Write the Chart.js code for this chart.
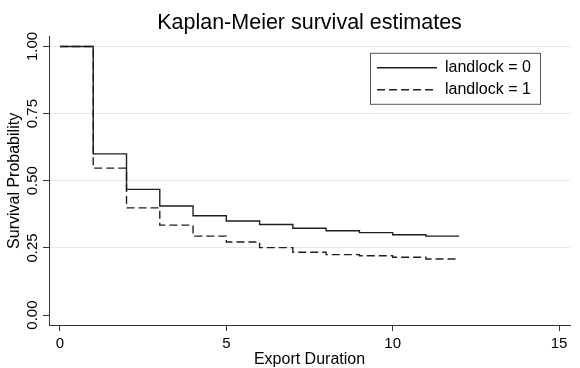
<!DOCTYPE html>
<html>
<head>
<meta charset="utf-8">
<script src="https://cdn.jsdelivr.net/npm/chart.js@4"></script>
<style>
  html, body { margin: 0; padding: 0; background: #ffffff; }
  #wrap { width: 580px; height: 368px; }
</style>
</head>
<body>
<div id="wrap"><canvas id="c" width="580" height="368"></canvas></div>
<script>
// ---- data ----
const times = [0, 1, 2, 3, 4, 5, 6, 7, 8, 9, 10, 11, 12];
const survLandlock0 = [1.00, 0.600, 0.468, 0.406, 0.370, 0.350, 0.337, 0.323, 0.314, 0.307, 0.299, 0.294, 0.294];
const survLandlock1 = [1.00, 0.547, 0.399, 0.335, 0.294, 0.272, 0.251, 0.234, 0.225, 0.221, 0.215, 0.209, 0.209];
const seriesLabels = ['landlock = 0', 'landlock = 1'];
const xTicks = [0, 5, 10, 15];
const xTickLabels = ['0', '5', '10', '15'];
const yTicks = [0, 0.25, 0.5, 0.75, 1];
const yTickLabels = ['0.00', '0.25', '0.50', '0.75', '1.00'];
const chartTitle = 'Kaplan-Meier survival estimates';
const xTitle = 'Export Duration';
const yTitle = 'Survival Probability';

const FONT = "'Liberation Sans', Arial, Helvetica, sans-serif";
const INK = '#000000';
const AXIS = '#333333';
const LINE = '#1e1e1e';
const DASH = [8, 4];

const toXY = (ys) => times.map((t, i) => ({ x: t, y: ys[i] }));

const legendPlacer = {
  id: 'legendPlacer',
  afterLayout(chart) {
    const lg = chart.legend;
    const ca = chart.chartArea;
    const w = 170, h = 56;
    lg.left = ca.right - 199;
    lg.top = ca.top + 17;
    lg.right = lg.left + w;
    lg.bottom = lg.top + h;
    lg.width = w;
    lg.height = h;
  },
  afterDraw(chart) {
    const lg = chart.legend;
    const ctx = chart.ctx;
    ctx.save();
    ctx.strokeStyle = '#555555';
    ctx.lineWidth = 1;
    ctx.strokeRect(lg.left - 0.5, lg.top - 0.5, 170, 51);
    ctx.restore();
  }
};

new Chart(document.getElementById('c'), {
  type: 'line',
  data: {
    datasets: [
      {
        label: seriesLabels[0],
        data: toXY(survLandlock0),
        borderColor: LINE,
        borderWidth: 1.4,
        stepped: 'before',
        pointRadius: 0,
        fill: false
      },
      {
        label: seriesLabels[1],
        data: toXY(survLandlock1),
        borderColor: LINE,
        borderWidth: 1.4,
        borderDash: DASH,
        stepped: 'before',
        pointRadius: 0,
        fill: false
      }
    ]
  },
  plugins: [legendPlacer],
  options: {
    responsive: false,
    devicePixelRatio: 1,
    animation: false,
    layout: { padding: { left: 0, right: 10, top: 0, bottom: 0 } },
    plugins: {
      title: {
        display: true,
        text: chartTitle,
        fullSize: false,
        color: INK,
        font: { family: FONT, size: 21.5, weight: 'normal', lineHeight: 1.2 },
        padding: { top: 10, bottom: 1 }
      },
      legend: {
        display: true,
        position: 'chartArea',
        align: 'start',
        labels: {
          usePointStyle: true,
          pointStyleWidth: 60,
          boxHeight: 10,
          padding: 6,
          color: INK,
          font: { family: FONT, size: 16 },
          generateLabels: (chart) => chart.data.datasets.map((ds, i) => ({
            text: seriesLabels[i],
            fillStyle: 'rgba(0,0,0,0)',
            strokeStyle: LINE,
            lineWidth: 1.4,
            lineDash: ds.borderDash || [],
            pointStyle: 'line',
            fontColor: INK,
            hidden: false,
            datasetIndex: i
          }))
        }
      },
      tooltip: { enabled: false }
    },
    scales: {
      x: {
        type: 'linear',
        min: -0.33,
        max: 15.33,
        afterBuildTicks: (scale) => { scale.ticks = xTicks.map(v => ({ value: v })); },
        afterFit: (scale) => { scale.height = 43; },
        ticks: {
          autoSkip: false,
          maxRotation: 0,
          padding: 4,
          color: INK,
          font: { family: FONT, size: 15 },
          callback: (v, i) => xTickLabels[i]
        },
        grid: {
          drawOnChartArea: false,
          drawTicks: true,
          tickLength: 6,
          color: AXIS,
          tickColor: AXIS
        },
        border: { display: true, color: AXIS, width: 1 },
        title: {
          display: true,
          text: xTitle,
          color: INK,
          font: { family: FONT, size: 16 },
          padding: { top: 0, bottom: -1 }
        }
      },
      y: {
        type: 'linear',
        min: -0.037,
        max: 1.036,
        afterBuildTicks: (scale) => { scale.ticks = yTicks.map(v => ({ value: v })); },
        afterFit: (scale) => { scale.width = 49; },
        ticks: {
          autoSkip: false,
          minRotation: 90,
          maxRotation: 90,
          crossAlign: 'center',
          padding: -4,
          color: INK,
          font: { family: FONT, size: 15 },
          callback: (v, i) => yTickLabels[i]
        },
        grid: {
          drawOnChartArea: true,
          drawTicks: true,
          tickLength: 6,
          color: (ctx) => (ctx.tick && ctx.tick.value === 0) ? 'rgba(0,0,0,0)' : '#e6e6e6',
          tickColor: AXIS,
          lineWidth: 1
        },
        border: { display: true, color: AXIS, width: 1 },
        title: {
          display: true,
          text: yTitle,
          color: INK,
          font: { family: FONT, size: 16 },
          padding: { top: 5, bottom: 0 }
        }
      }
    }
  }
});
</script>
</body>
</html>
